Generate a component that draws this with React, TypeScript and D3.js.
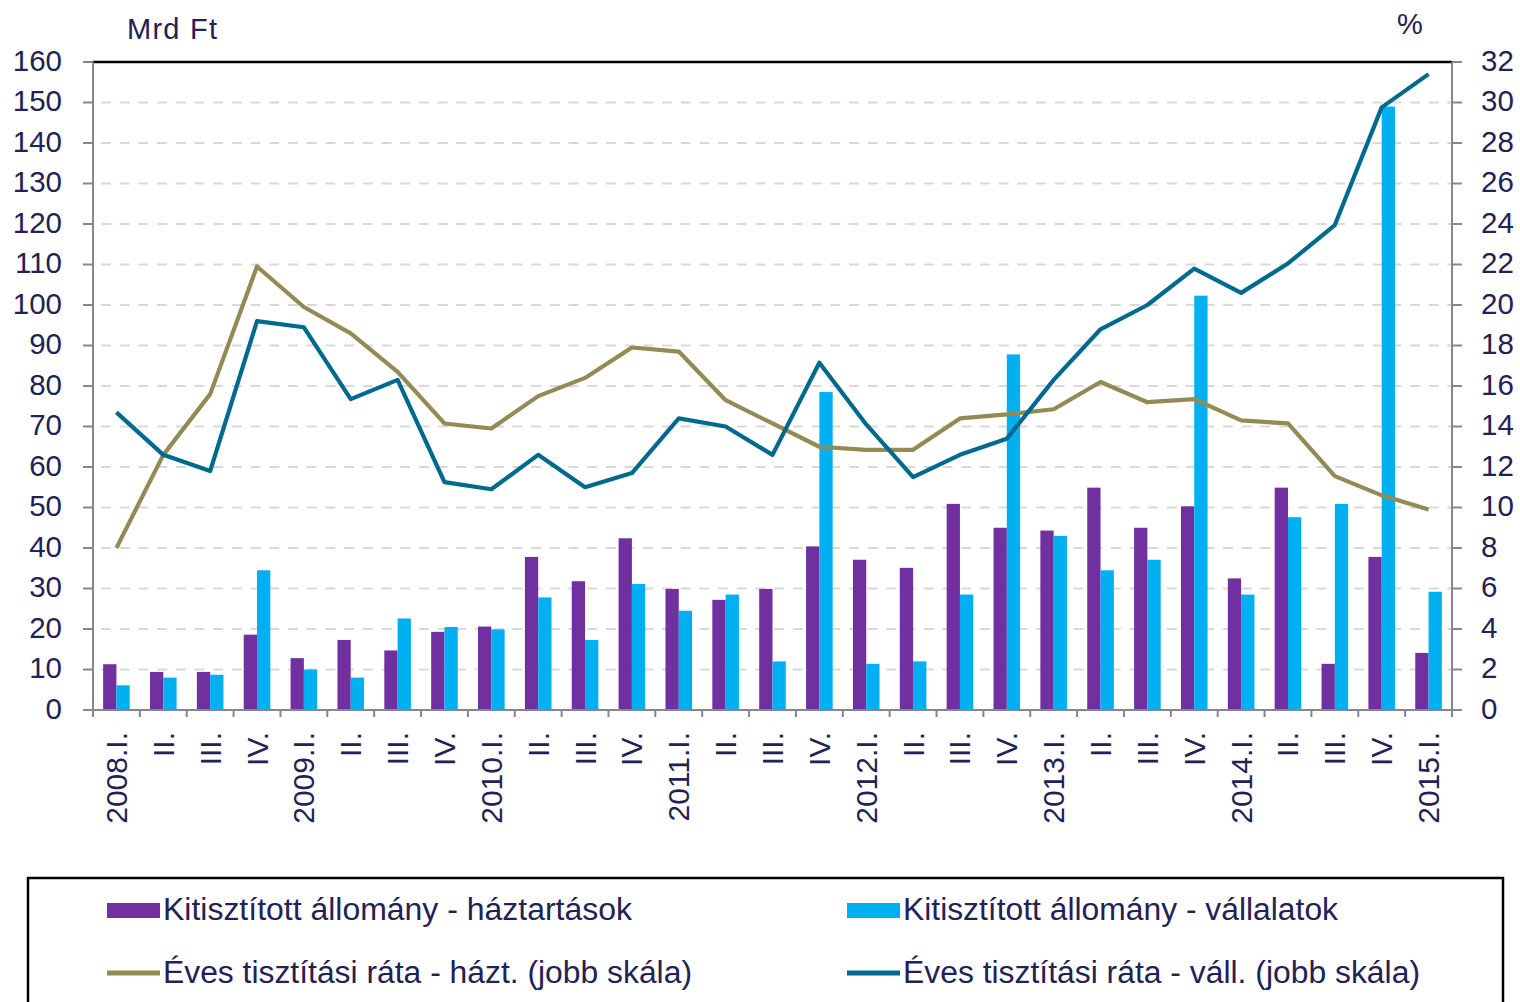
import React from "react";
import * as d3 from "d3";

const categories = [
  "2008.I.", "II.", "III.", "IV.",
  "2009.I.", "II.", "III.", "IV.",
  "2010.I.", "II.", "III.", "IV.",
  "2011.I.", "II.", "III.", "IV.",
  "2012.I.", "II.", "III.", "IV.",
  "2013.I.", "II.", "III.", "IV.",
  "2014.I.", "II.", "III.", "IV.",
  "2015.I.",
];

// Kitisztított állomány - háztartások (Mrd Ft)
const householdStock = [
  11.3, 9.4, 9.4, 18.6, 12.8, 17.3, 14.7, 19.3, 20.6, 37.8, 31.8, 42.4, 29.9,
  27.2, 29.9, 40.4, 37.1, 35.1, 50.9, 45.0, 44.3, 54.9, 45.0, 50.3, 32.5, 54.9,
  11.4, 37.8, 14.1,
];
// Kitisztított állomány - vállalatok (Mrd Ft)
const corporateStock = [
  6.1, 8.0, 8.7, 34.5, 10.0, 8.0, 22.6, 20.5, 19.9, 27.8, 17.3, 31.1, 24.5,
  28.5, 12.0, 78.5, 11.4, 12.0, 28.5, 87.8, 43.0, 34.5, 37.1, 102.3, 28.5, 47.6,
  50.9, 149.0, 29.2,
];
// Éves tisztítási ráta - házt. (%)
const householdRate = [
  8.0, 12.6, 15.6, 21.9, 19.9, 18.6, 16.7, 14.15, 13.9, 15.5, 16.4, 17.9, 17.7,
  15.3, 14.15, 13.0, 12.85, 12.85, 14.4, 14.6, 14.85, 16.2, 15.2, 15.35, 14.3,
  14.15, 11.55, 10.6, 9.9,
];
// Éves tisztítási ráta - váll. (%)
const corporateRate = [
  14.7, 12.6, 11.8, 19.2, 18.9, 15.35, 16.3, 11.25, 10.9, 12.6, 11.0, 11.7,
  14.4, 14.0, 12.6, 17.15, 14.1, 11.5, 12.6, 13.4, 16.3, 18.8, 20.0, 21.8,
  20.6, 22.05, 23.95, 29.76, 31.4,
];

const leftTicks = d3.range(0, 161, 10);
const rightTicks = d3.range(0, 33, 2);

const legendItems = [
  { label: "Kitisztított állomány - háztartások", color: "#7030A0", kind: "bar", col: 0, row: 0, w: 469 },
  { label: "Kitisztított állomány - vállalatok", color: "#00B0F0", kind: "bar", col: 1, row: 0, w: 435 },
  { label: "Éves tisztítási ráta - házt. (jobb skála)", color: "#948A54", kind: "line", col: 0, row: 1, w: 529 },
  { label: "Éves tisztítási ráta - váll. (jobb skála)", color: "#006A8E", kind: "line", col: 1, row: 1, w: 517 },
];

const TEXT = "#232155";
const AXIS = "#878592";
const FONT = "'Liberation Sans', Arial, sans-serif";

export default function App() {
  const left = 93, right = 1452, top = 62, bottom = 710;
  const x = d3.scaleBand<string>().domain(categories.map((c, i) => i + "")).range([left, right]).padding(0);
  const bw = x.bandwidth();
  const pairW = 26.6;
  const xi = d3.scaleBand<string>().domain(["h", "v"]).range([0, pairW]).padding(0);
  const yL = d3.scaleLinear().domain([0, 160]).range([bottom, top]);
  const yR = d3.scaleLinear().domain([0, 32]).range([bottom, top]);
  const cx = (i: number) => (x(i + "") as number) + bw / 2;
  const line = d3.line<number>().x((_, i) => cx(i)).y((d) => yR(d));

  const legendX = [107, 847];
  const legendY = [910, 973];

  return (
    <svg width={1520} height={1002} style={{ position: "absolute", left: 0, top: 0, background: "#fff" }} fontFamily={FONT}>
      {/* gridlines */}
      {leftTicks.filter((t) => t > 0 && t < 160).map((t) => (
        <line key={"g" + t} x1={left} x2={right} y1={yL(t)} y2={yL(t)} stroke="#D9D9D9" strokeWidth={2} strokeDasharray="10,8.7" strokeDashoffset={-8} />
      ))}
      {/* bars */}
      {categories.map((c, i) => {
        const x0 = (x(i + "") as number) + (bw - pairW) / 2;
        return (
          <g key={"b" + i}>
            <rect x={x0 + (xi("h") as number)} y={yL(householdStock[i])} width={xi.bandwidth()} height={yL(0) - yL(householdStock[i])} fill="#7030A0" />
            <rect x={x0 + (xi("v") as number)} y={yL(corporateStock[i])} width={xi.bandwidth()} height={yL(0) - yL(corporateStock[i])} fill="#00B0F0" />
          </g>
        );
      })}
      {/* lines */}
      <path d={line(householdRate) || ""} fill="none" stroke="#948A54" strokeWidth={4.2} strokeLinejoin="round" />
      <path d={line(corporateRate) || ""} fill="none" stroke="#006A8E" strokeWidth={4.2} strokeLinejoin="round" />
      {/* axes */}
      <line x1={left} x2={right} y1={top} y2={top} stroke="#000" strokeWidth={2.5} />
      <line x1={left} x2={left} y1={top} y2={bottom} stroke={AXIS} strokeWidth={2} />
      <line x1={right} x2={right} y1={top} y2={bottom} stroke={AXIS} strokeWidth={2} />
      <line x1={left} x2={right} y1={bottom} y2={bottom} stroke={AXIS} strokeWidth={2} />
      {leftTicks.map((t) => (
        <g key={"l" + t}>
          <line x1={left - 10} x2={left} y1={yL(t)} y2={yL(t)} stroke={AXIS} strokeWidth={2} />
          <text x={62} y={yL(t)} dy="0.3em" textAnchor="end" fontSize={29.5} fill={TEXT}>{t}</text>
        </g>
      ))}
      {rightTicks.map((t) => (
        <g key={"r" + t}>
          <line x1={right} x2={right + 10} y1={yR(t)} y2={yR(t)} stroke={AXIS} strokeWidth={2} />
          <text x={1481} y={yR(t)} dy="0.3em" textAnchor="start" fontSize={29.5} fill={TEXT}>{t}</text>
        </g>
      ))}
      {d3.range(categories.length + 1).map((i) => {
        const xx = left + i * bw;
        return <line key={"xt" + i} x1={xx} x2={xx} y1={bottom} y2={bottom + 7} stroke={AXIS} strokeWidth={2} />;
      })}
      {categories.map((c, i) => (
        <text key={"xl" + i} transform={`translate(${cx(i)},732) rotate(-90)`} dy="0.35em" textAnchor="end" fontSize={30} fill={TEXT}>{c}</text>
      ))}
      <text x={127} y={39} fontSize={29} fill={TEXT} textLength={90} lengthAdjust="spacing">Mrd Ft</text>
      <text x={1397} y={34} fontSize={29} fill={TEXT}>%</text>
      {/* legend */}
      <rect x={28} y={878} width={1475} height={140} fill="none" stroke="#000" strokeWidth={2.5} />
      {legendItems.map((it) => {
        const lx = legendX[it.col];
        const ly = legendY[it.row];
        return (
          <g key={it.label}>
            {it.kind === "bar" ? (
              <rect x={lx} y={ly - 7} width={53} height={15} fill={it.color} />
            ) : (
              <line x1={lx} x2={lx + 53} y1={ly} y2={ly} stroke={it.color} strokeWidth={5} />
            )}
            <text x={lx + 56} y={ly + 10} fontSize={31} fill={TEXT} textLength={it.w} lengthAdjust="spacingAndGlyphs">{it.label}</text>
          </g>
        );
      })}
    </svg>
  );
}
